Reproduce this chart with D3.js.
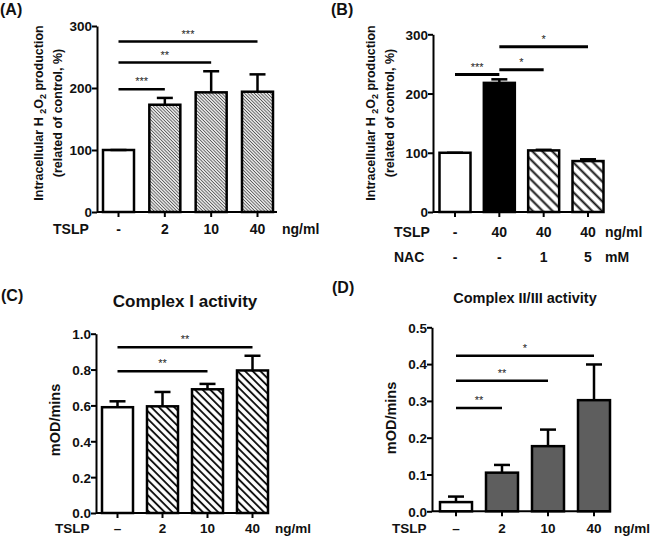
<!DOCTYPE html>
<html>
<head>
<meta charset="utf-8">
<script src="https://cdn.jsdelivr.net/npm/d3@7"></script>
<style>
  body { margin: 0; background: #fff; }
  svg { display: block; font-family: "Liberation Sans", Arial, sans-serif; font-weight: bold; }
</style>
</head>
<body>
<svg width="662" height="536"></svg>
<script>
// ---- data ----
var aCats = ["-", "2", "10", "40"];
var aValues = [100, 173, 193, 194];
var aErrors = [0, 11, 34, 28];
var aSig = [[0, 1, 198, "***"], [0, 2, 241, "**"], [0, 3, 275, "***"]];
var aTicks = [0, 100, 200, 300];

var bTslp = ["-", "40", "40", "40"];
var bNac = ["-", "-", "1", "5"];
var bValues = [100, 218, 104, 86];
var bErrors = [0, 6, 1, 3];
var bSig = [[0, 1, 232, "***"], [1, 2, 240, "*"], [1, 3, 279, "*"]];
var bTicks = [0, 100, 200, 300];

var cCats = ["\u2013", "2", "10", "40"];
var cValues = [0.59, 0.595, 0.69, 0.795];
var cErrors = [0.033, 0.08, 0.03, 0.082];
var cSig = [[0, 2, 0.79, "**"], [0, 3, 0.924, "**"]];
var cTicks = [0, 0.2, 0.4, 0.6, 0.8, 1.0];

var dCats = ["\u2013", "2", "10", "40"];
var dValues = [0.025, 0.105, 0.177, 0.302];
var dErrors = [0.015, 0.021, 0.045, 0.097];
var dSig = [[0, 1, 0.281, "**"], [0, 2, 0.355, "**"], [0, 3, 0.423, "*"]];
var dTicks = [0, 0.1, 0.2, 0.3, 0.4, 0.5];

var svg = d3.select("svg");
var defs = svg.append("defs");

//hatch patterns
function hatch(id, gap, sw, col) {
    var p = defs.append("pattern")
        .attr("id", id)
        .attr("patternUnits", "userSpaceOnUse")
        .attr("width", gap).attr("height", gap)
        .attr("patternTransform", "rotate(45)");
    p.append("rect").attr("width", gap).attr("height", gap).attr("fill", "#fff");
    p.append("line")
        .attr("x1", 0).attr("x2", gap)
        .attr("y1", gap / 2).attr("y2", gap / 2)
        .attr("stroke", col).attr("stroke-width", sw);
}
hatch("fine", 2.3, 1, "#555");
hatch("wide", 7, 2, "#111");
hatch("med", 5.4, 1.9, "#111");

function drawPanel(o) {
    var g = svg.append("g");
    var y = d3.scaleLinear().domain(o.domain).range([o.y0, o.y1]);
    var x = d3.scalePoint().domain(d3.range(o.values.length)).range([o.c0, o.c1]);

    //y axis
    var yAxis = d3.axisLeft(y).tickValues(o.ticks).tickSize(5).tickSizeOuter(0)
        .tickFormat(o.fmt);
    var ya = g.append("g").attr("transform", "translate(" + o.ax + ",0)").call(yAxis);
    ya.select(".domain").attr("stroke", "#000").attr("stroke-width", 2);
    ya.selectAll(".tick line").attr("stroke", "#000").attr("stroke-width", 2);
    ya.selectAll(".tick text").attr("font-size", o.tickFont).attr("font-weight", "bold")
        .attr("fill", "#111").attr("font-family", "Liberation Sans, Arial, sans-serif")
        .attr("x", -5).attr("dy", "0.36em");

    //bars
    g.selectAll(".bar").data(o.values).enter().append("rect")
        .attr("x", function(d, i) { return x(i) - o.bw / 2; })
        .attr("y", function(d) { return y(d); })
        .attr("width", o.bw)
        .attr("height", function(d) { return y(0) - y(d); })
        .attr("fill", function(d, i) { return o.fills[i]; })
        .attr("stroke", "#000").attr("stroke-width", 2.5);

    //error bars (upper only)
    var eb = g.selectAll(".err").data(o.values).enter().append("g");
    eb.append("line")
        .attr("x1", function(d, i) { return x(i); })
        .attr("x2", function(d, i) { return x(i); })
        .attr("y1", function(d) { return y(d); })
        .attr("y2", function(d, i) { return y(d + o.errors[i]); })
        .attr("stroke", "#000").attr("stroke-width", 2.5);
    eb.append("line")
        .attr("x1", function(d, i) { return x(i) - 8; })
        .attr("x2", function(d, i) { return x(i) + 8; })
        .attr("y1", function(d, i) { return y(d + o.errors[i]); })
        .attr("y2", function(d, i) { return y(d + o.errors[i]); })
        .attr("stroke", "#000").attr("stroke-width", 2.5);

    //x axis line + ticks
    g.append("line").attr("x1", o.ax).attr("x2", o.axEnd)
        .attr("y1", y(0)).attr("y2", y(0))
        .attr("stroke", "#000").attr("stroke-width", 2);
    g.selectAll(".xt").data(o.values).enter().append("line")
        .attr("x1", function(d, i) { return x(i); })
        .attr("x2", function(d, i) { return x(i); })
        .attr("y1", y(0)).attr("y2", y(0) + 5)
        .attr("stroke", "#000").attr("stroke-width", 2);

    //significance lines
    var sg = g.selectAll(".sig").data(o.sig).enter().append("g");
    sg.append("line")
        .attr("x1", function(d) { return x(d[0]); })
        .attr("x2", function(d) { return x(d[1]); })
        .attr("y1", function(d) { return y(d[2]); })
        .attr("y2", function(d) { return y(d[2]); })
        .attr("stroke", "#000").attr("stroke-width", o.sigW);
    sg.append("text")
        .attr("x", function(d) { return (x(d[0]) + x(d[1])) / 2; })
        .attr("y", function(d) { return y(d[2]) - 4; })
        .attr("text-anchor", "middle")
        .attr("font-size", 11).attr("font-weight", "normal").attr("fill", "#222")
        .text(function(d) { return d[3]; });

    //x labels rows
    o.rows.forEach(function(r) {
        g.append("text").attr("x", r.lx).attr("y", r.y).attr("font-size", o.labFont)
            .attr("fill", "#111").text(r.label);
        g.selectAll(".xl").data(r.cats).enter().append("text")
            .attr("x", function(d, i) { return x(i); })
            .attr("y", r.y)
            .attr("text-anchor", "middle")
            .attr("font-size", o.labFont).attr("fill", "#111")
            .text(function(d) { return d; });
        g.append("text").attr("x", r.ux).attr("y", r.y).attr("font-size", o.labFont)
            .attr("fill", "#111").text(r.unit);
    });

    //panel letter
    g.append("text").attr("x", o.px).attr("y", o.py).attr("font-size", 16)
        .attr("fill", "#111").text(o.letter);

    return g;
}

function h2o2Label(g, cx, cy) {
    var t = g.append("text")
        .attr("transform", "translate(" + cx + "," + cy + ") rotate(-90)")
        .attr("text-anchor", "middle").attr("font-size", 12.5).attr("fill", "#111");
    t.append("tspan").attr("x", 0).attr("y", 0).text("Intracellular H ");
    t.append("tspan").attr("font-size", 9).attr("dy", 3).text("2");
    t.append("tspan").attr("dy", -3).text("O");
    t.append("tspan").attr("font-size", 9).attr("dy", 3).text("2");
    t.append("tspan").attr("dy", -3).text(" production");
    g.append("text")
        .attr("transform", "translate(" + (cx + 19) + "," + cy + ") rotate(-90)")
        .attr("text-anchor", "middle").attr("font-size", 12.5).attr("fill", "#111")
        .text("(related of control, %)");
}

var fmtInt = d3.format("d"), fmt1 = d3.format(".1f");

//(A)
var pa = drawPanel({
    values: aValues, errors: aErrors, sig: aSig, ticks: aTicks, fmt: fmtInt,
    domain: [0, 300], y0: 212, y1: 26, c0: 118.5, c1: 257.5, bw: 31,
    ax: 97, axEnd: 277, tickFont: 13.5, labFont: 14, sigW: 2.5,
    fills: ["#fff", "url(#fine)", "url(#fine)", "url(#fine)"],
    rows: [{ label: "TSLP", lx: 53, y: 234, cats: aCats, unit: "ng/ml", ux: 282 }],
    letter: "(A)", px: 0, py: 15
});
h2o2Label(pa, 43, 113);

//(B)
var pb = drawPanel({
    values: bValues, errors: bErrors, sig: bSig, ticks: bTicks, fmt: fmtInt,
    domain: [0, 300], y0: 212, y1: 34.3, c0: 455, c1: 588, bw: 31,
    ax: 433, axEnd: 604, tickFont: 13.5, labFont: 14, sigW: 3,
    fills: ["#fff", "#000", "url(#wide)", "url(#wide)"],
    rows: [
        { label: "TSLP", lx: 394, y: 237, cats: bTslp, unit: "ng/ml", ux: 605 },
        { label: "NAC", lx: 394, y: 262, cats: bNac, unit: "mM", ux: 605 }
    ],
    letter: "(B)", px: 331, py: 15
});
h2o2Label(pb, 375, 113);

//(C)
var pc = drawPanel({
    values: cValues, errors: cErrors, sig: cSig, ticks: cTicks, fmt: fmt1,
    domain: [0, 1], y0: 513, y1: 333.7, c0: 117.5, c1: 252.5, bw: 31,
    ax: 96, axEnd: 268, tickFont: 13.5, labFont: 13.5, sigW: 2.5,
    fills: ["#fff", "url(#med)", "url(#med)", "url(#med)"],
    rows: [{ label: "TSLP", lx: 55, y: 532.5, cats: cCats, unit: "ng/ml", ux: 275 }],
    letter: "(C)", px: 1, py: 301
});
pc.append("text").attr("x", 185).attr("y", 307).attr("text-anchor", "middle")
    .attr("font-size", 17).attr("fill", "#111").text("Complex I activity");
pc.append("text").attr("transform", "translate(60,420) rotate(-90)")
    .attr("text-anchor", "middle").attr("font-size", 14.5).attr("fill", "#111").text("mOD/mins");

//(D)
var pd = drawPanel({
    values: dValues, errors: dErrors, sig: dSig, ticks: dTicks, fmt: fmt1,
    domain: [0, 0.5], y0: 511.3, y1: 327.3, c0: 456, c1: 594, bw: 32,
    ax: 432, axEnd: 611, tickFont: 13.5, labFont: 13.5, sigW: 2.5,
    fills: ["#fff", "#5e5e5e", "#5e5e5e", "#5e5e5e"],
    rows: [{ label: "TSLP", lx: 392, y: 532.5, cats: dCats, unit: "ng/ml", ux: 614 }],
    letter: "(D)", px: 332, py: 293
});
pd.append("text").attr("x", 525).attr("y", 303).attr("text-anchor", "middle")
    .attr("font-size", 14.5).attr("fill", "#111").text("Complex II/III activity");
pd.append("text").attr("transform", "translate(396,418) rotate(-90)")
    .attr("text-anchor", "middle").attr("font-size", 14.5).attr("fill", "#111").text("mOD/mins");
</script>
</body>
</html>
